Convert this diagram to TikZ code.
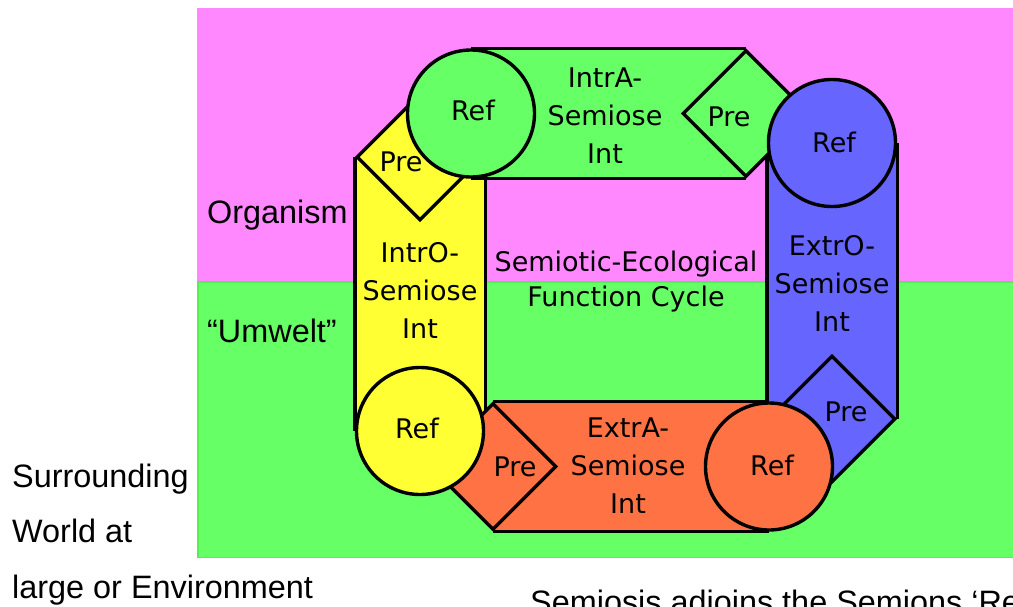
\documentclass[tikz,border=0pt]{standalone}
\usepackage{fontspec}
\setmainfont{Liberation Sans}
\newfontfamily\lgf{DejaVu Sans}
\usetikzlibrary{shapes.geometric}
\definecolor{pinkbg}{RGB}{255,136,255}
\definecolor{greenbg}{RGB}{102,255,102}
\definecolor{greenedge}{RGB}{84,238,84}
\definecolor{yel}{RGB}{255,255,51}
\definecolor{blu}{RGB}{102,102,255}
\definecolor{ora}{RGB}{255,114,68}
\definecolor{grn}{RGB}{102,255,102}
\pgfdeclarelayer{back}
\pgfdeclarelayer{mid}
\pgfsetlayers{back,mid,main}
\tikzset{
  outline/.style={draw=black,line width=3.4pt},
  refnode/.style={circle,outline,minimum size=127pt,inner sep=0pt},
  prenode/.style={diamond,aspect=1,outline,minimum size=127pt,inner sep=0pt},
  bandside/.style={outline},
  lbl/.style={font=\lgf\fontsize{27}{38}\selectfont,inner sep=0pt,align=center},
  single/.style={lbl,anchor=base},
  multi/.style={lbl,anchor=north},
  outer/.style={font=\fontsize{32.4}{55.5}\selectfont,inner sep=0pt,align=left}
}
\begin{document}
\begin{tikzpicture}[x=1pt,y=-1pt]
\useasboundingbox (0,0) rectangle (1013,606);
\clip (0,0) rectangle (1013,606);
\begin{pgfonlayer}{back}
  \fill[white] (0,0) rectangle (1013,606);
  \fill[pinkbg] (197,8) rectangle (1013,282);
  \filldraw[fill=greenbg,draw=greenedge,line width=1.5pt] (197.75,282) rectangle (1014,557.5);
\end{pgfonlayer}
% Pre diamonds
\node[prenode,fill=yel] (yP) at (420,157) {};
\node[prenode,fill=grn] (gP) at (746,113.5) {};
\node[prenode,fill=blu] (bP) at (832,419) {};
\node[prenode,fill=ora] (oP) at (493,466.5) {};
% Ref circles
\node[refnode,fill=grn] (gR) at (471,113.5) {};
\node[refnode,fill=blu] (bR) at (832,143) {};
\node[refnode,fill=ora] (oR) at (769,466.5) {};
\node[refnode,fill=yel] (yR) at (420,431) {};
% Int bands
\begin{pgfonlayer}{mid}
  \fill[yel] (yP.west) rectangle (yR.east);
  \draw[bandside] (yP.west) -- (yR.west);
  \draw[bandside] (yP.east) -- (yR.east);
  \fill[grn] (gR.north) rectangle (gP.south);
  \draw[bandside] (gR.north) -- (gP.north);
  \draw[bandside] (gR.south) -- (gP.south);
  \fill[blu] (bR.west) rectangle (bP.east);
  \draw[bandside] (bR.west) -- (bP.west);
  \draw[bandside] (bR.east) -- (bP.east);
  \fill[ora] (oP.north) rectangle (oR.south);
  \draw[bandside] (oP.north) -- (oR.north);
  \draw[bandside] (oP.south) -- (oR.south);
\end{pgfonlayer}
% labels
\node[single] (tgR) at (473,120) {Ref};
\node[single] (tyP) at (401,171) {Pre};
\node[single] (tgP) at (729,126) {Pre};
\node[single] (tbR) at (834,152) {Ref};
\node[single] (tbP) at (846,421) {Pre};
\node[single] (toR) at (772,475) {Ref};
\node[single] (toP) at (515,476) {Pre};
\node[single] (tyR) at (417,438) {Ref};
\node[multi] (tIntrA) at (605,67.5) {IntrA-\\Semiose\\Int};
\node[multi] (tIntrO) at (420,242.5) {IntrO-\\Semiose\\Int};
\node[multi] (tExtrO) at (832,235.5) {ExtrO-\\Semiose\\Int};
\node[multi] (tExtrA) at (628,417.5) {ExtrA-\\Semiose\\Int};
\node[lbl,anchor=north,font=\lgf\fontsize{27}{35}\selectfont] (tcycle) at (626,251) {Semiotic-Ecological\\Function Cycle};
\node[outer,anchor=base west] (org) at (207,223) {Organism};
\node[outer,anchor=base west] (umw) at (207,342) {“Umwelt”};
\node[outer,anchor=north west] (sur) at (12,463.5) {Surrounding\\World at\\large or Environment};
\node[outer,anchor=base west] (semi) at (530,613) {Semiosis adjoins the Semions ‘Ref’};
\end{tikzpicture}
\end{document}
